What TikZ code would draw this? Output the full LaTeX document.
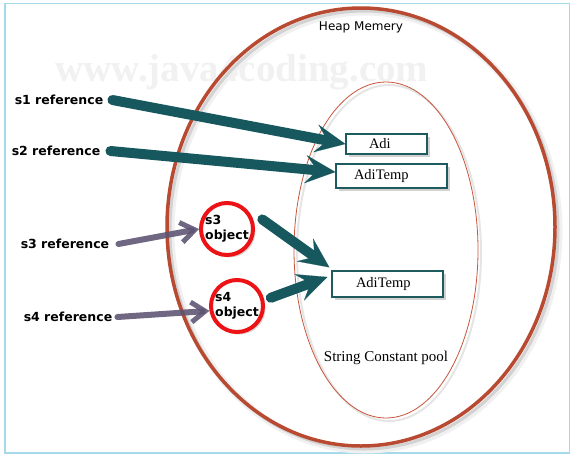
\documentclass[tikz,border=0pt]{standalone}
\usepackage{fontspec}
\setmainfont{Liberation Serif}
\newfontfamily\vsans{DejaVu Sans}
\usetikzlibrary{arrows.meta,shadows}
\definecolor{tealc}{RGB}{22,88,94}
\definecolor{boxc}{RGB}{30,91,95}
\definecolor{grayarr}{RGB}{93,83,114}
\definecolor{heapc}{RGB}{185,74,50}
\definecolor{poolc}{RGB}{200,85,60}
\definecolor{redc}{RGB}{236,18,22}
\definecolor{framec}{RGB}{165,218,234}
\definecolor{wmark}{RGB}{241,241,241}
\tikzset{
  lbl/.style={inner sep=0pt, font=\vsans\bfseries\fontsize{12.5}{14}\selectfont},
  strbox/.style={draw=boxc, line width=1.3pt, fill=white, inner xsep=0pt, inner ysep=0pt,
    align=left, font=\fontsize{14.5}{16}\selectfont,
    drop shadow={shadow xshift=2.5pt, shadow yshift=-2.5pt, opacity=0.35, fill=gray}},
  objcirc/.style={circle, draw=redc, line width=4pt, fill=white, inner sep=0pt, minimum size=52pt,
    align=left, font=\vsans\bfseries\fontsize{12.5}{15}\selectfont,
    drop shadow={shadow xshift=2.5pt, shadow yshift=-2.5pt, opacity=0.3, fill=gray}},
  bigarrow/.style={draw=tealc, line width=10pt, line cap=round,
    -{Stealth[length=30pt, width=28pt, inset=12pt, line width=0.1pt]}},
  refarrow/.style={draw=grayarr, line width=6pt, line cap=round, opacity=0.88,
    -{Straight Barb[length=14pt, width=20pt, line width=5pt]}}
}
\begin{document}
\begin{tikzpicture}[x=1pt,y=-1pt]
\useasboundingbox (0,0) rectangle (577,458);
\fill[white] (0,0) rectangle (577,458);
\draw[framec, line width=1.5pt] (5,3.5) rectangle (569.5,453);
% watermark
\node[text=wmark, font=\bfseries\fontsize{39}{39}\selectfont, inner sep=0pt] (wm) at (242,72) {www.java4coding.com};
% heap ellipse with shadow
\draw[gray!12, line width=7pt] (365,231) ellipse [x radius=194pt, y radius=219pt];
\draw[gray!35, line width=3pt] (364,230) ellipse [x radius=194pt, y radius=219pt];
\draw[heapc, line width=3.5pt] (361,227) ellipse [x radius=194pt, y radius=219pt];
% pool ellipse with shadow
\draw[gray!20, line width=2pt] (389,253) ellipse [x radius=92pt, y radius=168pt];
\draw[poolc, line width=0.8pt] (386,250) ellipse [x radius=92pt, y radius=168pt];
\node[font=\vsans\fontsize{12}{14}\selectfont, inner sep=0pt] (heap) at (361,27) {Heap Memery};
\node[font=\fontsize{15}{17}\selectfont, inner sep=0pt] (pool) at (386,358) {String Constant pool};
% labels
\node[lbl] (s1) at (59,100) {s1 reference};
\node[lbl] (s2) at (56,151) {s2 reference};
\node[lbl] (s3) at (65,244) {s3 reference};
\node[lbl] (s4) at (68,317) {s4 reference};
% string boxes
\node[strbox, text width=81pt, minimum height=20pt] (adi) at (386.5,144) {\hspace*{23pt}Adi};
\node[strbox, text width=111pt, minimum height=24pt] (at1) at (391.5,176) {\hspace*{18pt}AdiTemp};
\node[strbox, text width=111pt, minimum height=26pt] (at2) at (387.5,284) {\hspace*{24pt}AdiTemp};
% objects
\node[objcirc] (c3) at (227,229) {s3\\object};
\node[objcirc] (c4) at (237,306) {s4\\object};
% arrows
\draw[bigarrow] ([xshift=9pt]s1.east) -- (adi.west);
\draw[bigarrow] ([xshift=10pt]s2.east) -- ([yshift=4pt]at1.west);
\draw[bigarrow] ([xshift=9pt]c3.20) -- ([xshift=-2pt,yshift=3pt]at2.north west);
\draw[bigarrow] ([xshift=7pt]c4.17) -- ([xshift=-4pt,yshift=7pt]at2.west);
\draw[refarrow] ([xshift=9pt]s3.east) -- (c3.west);
\draw[refarrow] ([xshift=5pt]s4.east) -- (c4.190);
\end{tikzpicture}
\end{document}
